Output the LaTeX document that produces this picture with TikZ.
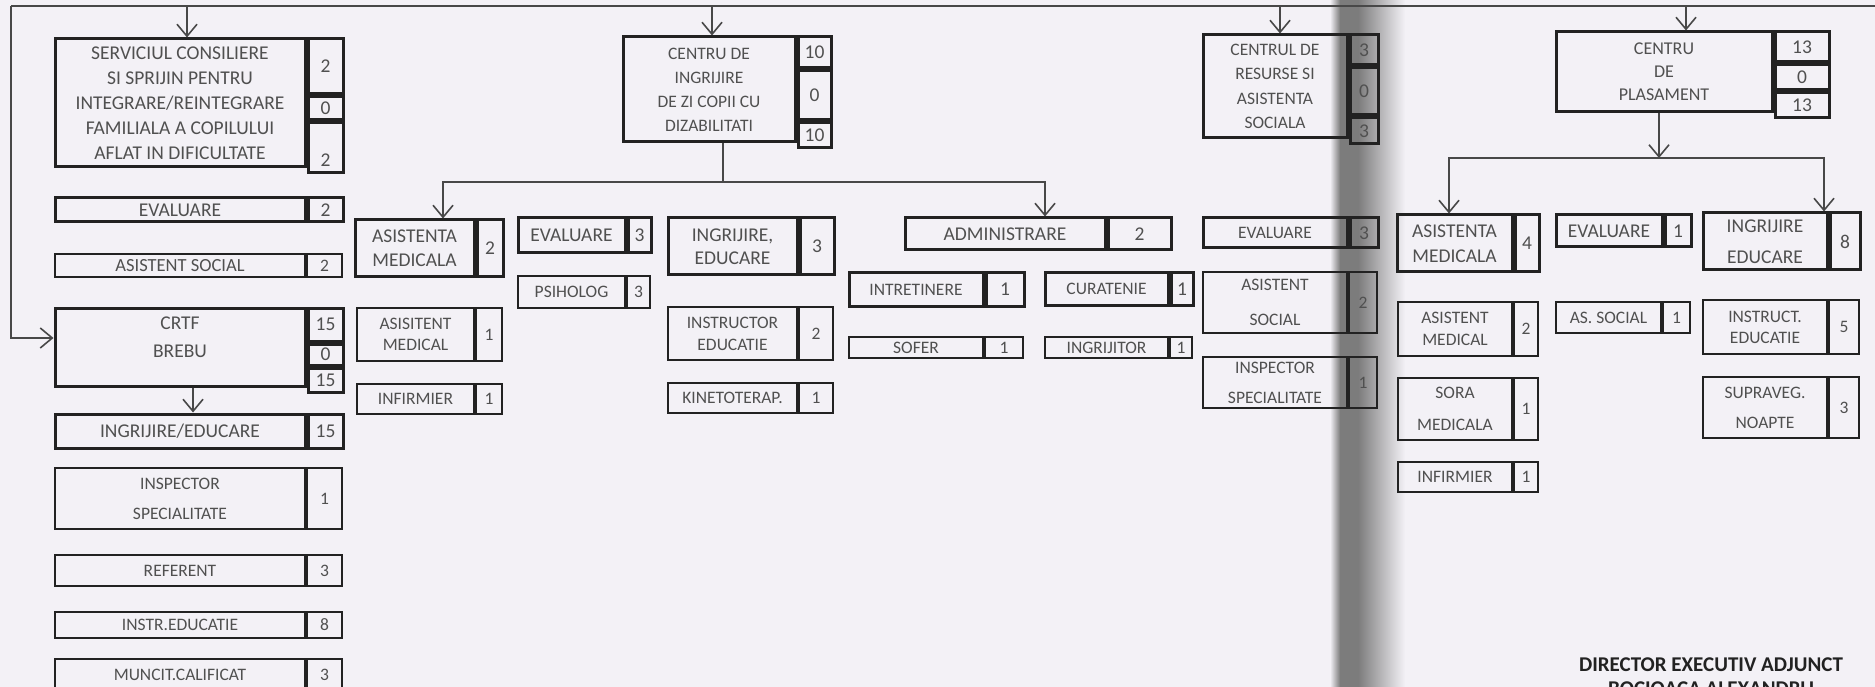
\documentclass[tikz,border=0pt]{standalone}
\usepackage{fontspec}
\setmainfont{Carlito}
\usetikzlibrary{positioning,arrows.meta}
\definecolor{paper}{HTML}{F3F1F6}
\definecolor{ink}{HTML}{505050}
\definecolor{rule}{HTML}{222222}
\definecolor{wire}{HTML}{484848}
\definecolor{fold}{HTML}{7C7C7C}
\tikzset{
  cell/.style={draw=rule, line width=2pt, inner sep=0pt, align=center, text=ink, font=\fontsize{17.5}{24}\selectfont},
  heavy/.style={line width=3pt, font=\fontsize{19.5}{24}\selectfont},
  conn/.style={draw=wire, line width=1.6pt},
  arr/.style={conn, -{Straight Barb[length=12pt,width=20pt]}},
}
\begin{document}
\begin{tikzpicture}[x=1pt,y=-1pt]
\useasboundingbox (0,0) rectangle (1875,687);
\clip (0,0) rectangle (1875,687);
\fill[paper] (0,0) rectangle (1875,687);
\shade[left color=paper,right color=fold] (1330,0) rectangle (1340,687);
\fill[fold] (1340,0) rectangle (1358,687);
\shade[left color=fold,right color=paper] (1358,0) rectangle (1405,687);

% serviciul + crtf
\node[cell, heavy, font=\fontsize{19.5}{25}\selectfont, minimum width=250pt, minimum height=128pt] (srv) at (180,103) {SERVICIUL CONSILIERE\\SI SPRIJIN PENTRU\\INTEGRARE/REINTEGRARE\\FAMILIALA A COPILULUI\\AFLAT IN DIFICULTATE};
\node[cell, heavy, anchor=north west, minimum width=35pt, minimum height=55pt] (srvn1) at (srv.north east) {2};
\node[cell, heavy, minimum width=35pt, minimum height=23pt, below=0pt of srvn1] (srvn2) {0};
\node[cell, heavy, text height=38pt, minimum width=35pt, minimum height=50pt, below=0pt of srvn2] (srvn3) {2};
\node[cell, heavy, minimum width=250pt, minimum height=24pt] (ev1) at (180,210) {EVALUARE};
\node[cell, heavy, minimum width=35pt, minimum height=24pt, right=0pt of ev1] (ev1n) {2};
\node[cell, font=\fontsize{18.5}{24}\selectfont, minimum width=250pt, minimum height=23pt] (as1) at (180,265.5) {ASISTENT SOCIAL};
\node[cell, minimum width=35pt, minimum height=23pt, right=0pt of as1] (as1n) {2};
\node[cell, heavy, font=\fontsize{19.5}{28}\selectfont, text depth=20pt, minimum width=250pt, minimum height=78pt] (crtf) at (180,347) {CRTF\\BREBU};
\node[cell, heavy, anchor=north west, minimum width=35pt, minimum height=33pt] (crtfn1) at (crtf.north east) {15};
\node[cell, heavy, minimum width=35pt, minimum height=21pt, below=0pt of crtfn1] (crtfn2) {0};
\node[cell, heavy, minimum width=35pt, minimum height=24pt, below=0pt of crtfn2] (crtfn3) {15};
\node[cell, heavy, minimum width=250pt, minimum height=34pt] (ie) at (180,431) {INGRIJIRE/EDUCARE};
\node[cell, heavy, minimum width=35pt, minimum height=34pt, right=0pt of ie] (ien) {15};
\node[cell, font=\fontsize{17.5}{30}\selectfont, minimum width=250pt, minimum height=61pt] (insp1) at (180,498.5) {INSPECTOR\\SPECIALITATE};
\node[cell, minimum width=35pt, minimum height=61pt, right=0pt of insp1] (insp1n) {1};
\node[cell, minimum width=250pt, minimum height=31pt] (ref) at (180,570.5) {REFERENT};
\node[cell, minimum width=35pt, minimum height=31pt, right=0pt of ref] (refn) {3};
\node[cell, minimum width=250pt, minimum height=26pt] (instr) at (180,625) {INSTR.EDUCATIE};
\node[cell, minimum width=35pt, minimum height=26pt, right=0pt of instr] (instrn) {8};
\node[cell, minimum width=250pt, minimum height=32pt] (munc) at (180,675) {MUNCIT.CALIFICAT};
\node[cell, minimum width=35pt, minimum height=32pt, right=0pt of munc] (muncn) {3};

% centru de ingrijire de zi
\node[cell, heavy, font=\fontsize{17.5}{24}\selectfont, minimum width=172pt, minimum height=105pt] (cdi) at (709,89.5) {CENTRU DE\\INGRIJIRE\\DE ZI COPII CU\\DIZABILITATI};
\node[cell, heavy, anchor=north west, minimum width=33pt, minimum height=31pt] (cdin1) at (cdi.north east) {10};
\node[cell, heavy, minimum width=33pt, minimum height=49pt, below=0pt of cdin1] (cdin2) {0};
\node[cell, heavy, minimum width=33pt, minimum height=25pt, below=0pt of cdin2] (cdin3) {10};
\node[cell, heavy, minimum width=119pt, minimum height=57pt] (asm) at (414.5,248.5) {ASISTENTA\\MEDICALA};
\node[cell, heavy, minimum width=26pt, minimum height=57pt, right=0pt of asm] (asmn) {2};
\node[cell, heavy, minimum width=107pt, minimum height=35pt] (ev2) at (571.5,235.5) {EVALUARE};
\node[cell, heavy, minimum width=23pt, minimum height=35pt, right=0pt of ev2] (ev2n) {3};
\node[cell, minimum width=107pt, minimum height=32pt] (psi) at (571.5,292) {PSIHOLOG};
\node[cell, minimum width=23pt, minimum height=32pt, right=0pt of psi] (psin) {3};
\node[cell, heavy, font=\fontsize{19.5}{23}\selectfont, minimum width=129pt, minimum height=57pt] (ied) at (732.5,246.5) {INGRIJIRE,\\EDUCARE};
\node[cell, heavy, minimum width=34pt, minimum height=57pt, right=0pt of ied] (iedn) {3};
\node[cell, font=\fontsize{17.5}{21}\selectfont, minimum width=117pt, minimum height=53pt] (asmed) at (415.5,334.5) {ASISITENT\\MEDICAL};
\node[cell, minimum width=26pt, minimum height=53pt, right=0pt of asmed] (asmedn) {1};
\node[cell, minimum width=117pt, minimum height=30pt] (inf) at (415.5,399) {INFIRMIER};
\node[cell, minimum width=26pt, minimum height=30pt, right=0pt of inf] (infn) {1};
\node[cell, font=\fontsize{17.5}{22}\selectfont, minimum width=129pt, minimum height=53pt] (ins2) at (732.5,333.5) {INSTRUCTOR\\EDUCATIE};
\node[cell, minimum width=34pt, minimum height=53pt, right=0pt of ins2] (ins2n) {2};
\node[cell, minimum width=129pt, minimum height=30pt] (kin) at (732.5,398) {KINETOTERAP.};
\node[cell, minimum width=34pt, minimum height=30pt, right=0pt of kin] (kinn) {1};

% administrare
\node[cell, heavy, minimum width=200pt, minimum height=32pt] (adm) at (1005,234) {ADMINISTRARE};
\node[cell, heavy, minimum width=63pt, minimum height=32pt, right=0pt of adm] (admn) {2};
\node[cell, heavy, font=\fontsize{17.5}{24}\selectfont, minimum width=134pt, minimum height=33pt] (intr) at (916,289.5) {INTRETINERE};
\node[cell, heavy, minimum width=38pt, minimum height=33pt, right=0pt of intr] (intrn) {1};
\node[cell, heavy, font=\fontsize{17.5}{24}\selectfont, minimum width=123pt, minimum height=32pt] (cur) at (1106.5,289) {CURATENIE};
\node[cell, heavy, minimum width=22pt, minimum height=32pt, right=0pt of cur] (curn) {1};
\node[cell, minimum width=134pt, minimum height=21pt] (sof) at (916,347.5) {SOFER};
\node[cell, minimum width=38pt, minimum height=21pt, right=0pt of sof] (sofn) {1};
\node[cell, minimum width=123pt, minimum height=21pt] (ingr) at (1106.5,347.5) {INGRIJITOR};
\node[cell, minimum width=22pt, minimum height=21pt, right=0pt of ingr] (ingrn) {1};

% centrul de resurse
\node[cell, heavy, font=\fontsize{17.5}{24.5}\selectfont, minimum width=144pt, minimum height=103pt] (cre) at (1275,86.5) {CENTRUL DE\\RESURSE SI\\ASISTENTA\\SOCIALA};
\node[cell, heavy, anchor=north west, minimum width=28pt, minimum height=30pt] (cren1) at (cre.north east) {3};
\node[cell, heavy, minimum width=28pt, minimum height=47pt, below=0pt of cren1] (cren2) {0};
\node[cell, heavy, minimum width=28pt, minimum height=26pt, below=0pt of cren2] (cren3) {3};
\node[cell, heavy, font=\fontsize{17.5}{24}\selectfont, minimum width=144pt, minimum height=30pt] (ev3) at (1275,233) {EVALUARE};
\node[cell, heavy, minimum width=28pt, minimum height=30pt, right=0pt of ev3] (ev3n) {3};
\node[cell, font=\fontsize{17.5}{35}\selectfont, minimum width=144pt, minimum height=61pt] (ass) at (1275,302.5) {ASISTENT\\SOCIAL};
\node[cell, minimum width=28pt, minimum height=61pt, right=0pt of ass] (assn) {2};
\node[cell, font=\fontsize{17.5}{30}\selectfont, minimum width=144pt, minimum height=51pt] (insp3) at (1275,382.5) {INSPECTOR\\SPECIALITATE};
\node[cell, minimum width=28pt, minimum height=51pt, right=0pt of insp3] (insp3n) {1};

% centru de plasament
\node[cell, heavy, font=\fontsize{18}{23}\selectfont, minimum width=216pt, minimum height=80pt] (cpl) at (1664,72) {CENTRU\\DE\\PLASAMENT};
\node[cell, heavy, anchor=north west, minimum width=54pt, minimum height=30pt] (cpln1) at (cpl.north east) {13};
\node[cell, heavy, minimum width=54pt, minimum height=25pt, below=0pt of cpln1] (cpln2) {0};
\node[cell, heavy, minimum width=54pt, minimum height=25pt, below=0pt of cpln2] (cpln3) {13};
\node[cell, heavy, font=\fontsize{19.5}{25}\selectfont, minimum width=115pt, minimum height=57pt] (asm2) at (1454.5,243.5) {ASISTENTA\\MEDICALA};
\node[cell, heavy, minimum width=24pt, minimum height=57pt, right=0pt of asm2] (asm2n) {4};
\node[cell, heavy, minimum width=106pt, minimum height=32pt] (ev4) at (1609,231) {EVALUARE};
\node[cell, heavy, minimum width=26pt, minimum height=32pt, right=0pt of ev4] (ev4n) {1};
\node[cell, heavy, font=\fontsize{19.5}{31}\selectfont, minimum width=124pt, minimum height=57pt] (ied2) at (1765,241.5) {INGRIJIRE\\EDUCARE};
\node[cell, heavy, minimum width=30pt, minimum height=57pt, right=0pt of ied2] (ied2n) {8};
\node[cell, font=\fontsize{17.5}{22}\selectfont, minimum width=114pt, minimum height=54pt] (amed2) at (1455,329) {ASISTENT\\MEDICAL};
\node[cell, minimum width=24pt, minimum height=54pt, right=0pt of amed2] (amed2n) {2};
\node[cell, font=\fontsize{17.5}{32}\selectfont, minimum width=114pt, minimum height=62pt] (sora) at (1455,409) {SORA\\MEDICALA};
\node[cell, minimum width=24pt, minimum height=62pt, right=0pt of sora] (soran) {1};
\node[cell, minimum width=114pt, minimum height=30pt] (inf2) at (1455,477) {INFIRMIER};
\node[cell, minimum width=24pt, minimum height=30pt, right=0pt of inf2] (inf2n) {1};
\node[cell, minimum width=105pt, minimum height=31pt] (ass2) at (1608.5,317.5) {AS. SOCIAL};
\node[cell, minimum width=27pt, minimum height=31pt, right=0pt of ass2] (ass2n) {1};
\node[cell, font=\fontsize{17.5}{21}\selectfont, minimum width=124pt, minimum height=54pt] (instr2) at (1765,327) {INSTRUCT.\\EDUCATIE};
\node[cell, minimum width=30pt, minimum height=54pt, right=0pt of instr2] (instr2n) {5};
\node[cell, font=\fontsize{17.5}{30}\selectfont, minimum width=124pt, minimum height=61pt] (supr) at (1765,407.5) {SUPRAVEG.\\NOAPTE};
\node[cell, minimum width=30pt, minimum height=61pt, right=0pt of supr] (suprn) {3};

\node[align=center, text=rule, font=\bfseries\fontsize{21}{24}\selectfont] (dir) at (1711,677) {DIRECTOR EXECUTIV ADJUNCT\\BOCIOACA ALEXANDRU};

% legaturi
\coordinate (tl) at (11,6);
\coordinate (tr) at (1875,6);
\draw[conn] (tr) -- (tl);
\draw[arr] (tl) |- ([yshift=9pt]crtf.west);
\draw[arr] ([xshift=7pt]srv.north |- tl) -- ([xshift=7pt]srv.north);
\draw[arr] ([xshift=3pt]cdi.north |- tl) -- ([xshift=3pt]cdi.north);
\draw[arr] ([xshift=5pt]cre.north |- tl) -- ([xshift=5pt]cre.north);
\draw[arr] ([xshift=22pt]cpl.north |- tl) -- ([xshift=22pt]cpl.north);
\draw[arr] ([xshift=13pt]crtf.south) -- ([xshift=13pt]crtf.south |- ie.north);

\coordinate (cdil) at (443,182);
\coordinate (cdir) at (1045,182);
\draw[conn] ([xshift=14pt]cdi.south) -- ([xshift=14pt]cdi.south |- cdil);
\draw[arr] (cdir) -| (cdil |- asm.north);
\draw[arr] (cdil) -| (cdir |- adm.north);

\coordinate (cpll) at (1449,158);
\coordinate (cplr) at (1824,158);
\draw[arr] ([xshift=-5pt]cpl.south) -- ([xshift=-5pt]cpl.south |- cpll);
\draw[arr] (cplr) -| (cpll |- asm2.north);
\draw[arr] (cpll) -| (cplr |- ied2.north);
\end{tikzpicture}
\end{document}
